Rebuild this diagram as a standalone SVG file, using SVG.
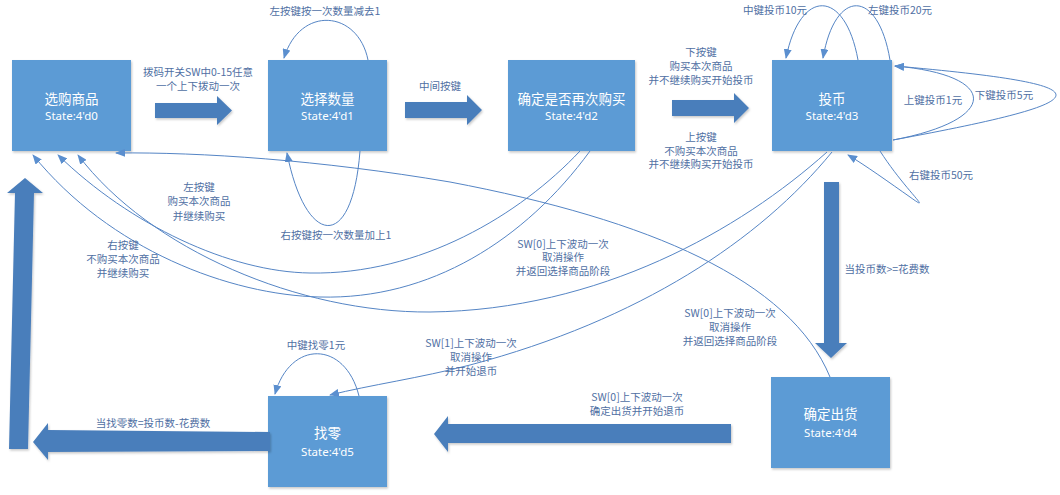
<svg xmlns="http://www.w3.org/2000/svg" width="1060" height="495" viewBox="0 0 1060 495">
<style>
.node rect{fill:#5B9BD5;filter:url(#sh)}
.t{font-family:"Noto Sans CJK SC","Noto Sans",sans-serif;fill:#fff;text-anchor:middle}
.tt{font-size:13.5px}
.ts{font-size:11.5px;font-family:"Noto Sans","Noto Sans CJK SC",sans-serif}
.big{fill:#4A7EBB;filter:url(#sh)}
.ln{fill:none;stroke:#5585C5;stroke-width:1;marker-end:url(#ah)}
.lb{font-family:"Noto Sans CJK SC","Noto Sans",sans-serif;font-size:10.5px;fill:#4F6FA3;text-anchor:middle}
</style>
<defs>
<filter id="sh" x="-10%" y="-10%" width="130%" height="130%"><feDropShadow dx="1" dy="1.5" stdDeviation="1.2" flood-color="#000" flood-opacity="0.22"/></filter>
<marker id="ah" markerWidth="10" markerHeight="8" refX="9" refY="4" orient="auto" markerUnits="userSpaceOnUse"><path d="M0,0 L10,4 L0,8 z" fill="#5B8FCF"/></marker>
</defs>
<rect width="1060" height="495" fill="#fff"/>

<g id="node0" class="node"><rect x="12" y="60" width="119" height="91"/><text class="t tt" x="71.5" y="104">选购商品</text><text class="t ts" x="71.5" y="120">State:4'd0</text></g>
<g id="node1" class="node"><rect x="268" y="60" width="119" height="91"/><text class="t tt" x="327.5" y="104">选择数量</text><text class="t ts" x="327.5" y="120">State:4'd1</text></g>
<g id="node2" class="node"><rect x="508" y="60" width="127" height="91"/><text class="t tt" x="571.5" y="104">确定是否再次购买</text><text class="t ts" x="571.5" y="120">State:4'd2</text></g>
<g id="node3" class="node"><rect x="772" y="60" width="120" height="91"/><text class="t tt" x="832" y="104">投币</text><text class="t ts" x="832" y="120">State:4'd3</text></g>
<g id="node4" class="node"><rect x="771" y="377" width="119" height="91"/><text class="t tt" x="830.5" y="419">确定出货</text><text class="t ts" x="830.5" y="437">State:4'd4</text></g>
<g id="node5" class="node"><rect x="268" y="396" width="119" height="91"/><text class="t tt" x="327.5" y="438">找零</text><text class="t ts" x="327.5" y="456">State:4'd5</text></g>

<g id="connectors">
<polygon class="big" points="155,103 217,103 217,96 232,110.5 217,125 217,118 155,118"/>
<polygon class="big" points="405,102 467,102 467,95 482,110 467,125 467,118 405,118"/>
<polygon class="big" points="672,100 734,100 734,93 749,108 734,123 734,116 672,116"/>
<polygon class="big" points="824,182 839,182 839,343 847,343 831,358 815,343 824,343"/>
<polygon class="big" points="731,424 731,443 448,443 448,452 434,434 448,416 448,424"/>
<polygon class="big" points="270,432 270,451 48,452 48,460 33,442 48,423 48,430"/>
<polygon class="big" points="9,449 28,449 34,193 43,193 25,178 7,193 15,193"/>

<path class="ln" d="M368,60 C358,10 300,5 284,58"/>
<path class="ln" d="M360,151 C352,255 305,245 287,153"/>
<path class="ln" d="M858,60 C845,-12 800,-12 786,58"/>
<path class="ln" d="M890,60 C878,-12 835,-12 823,58"/>
<path class="ln" d="M893,140 C1000,120 1000,75 895,66"/>
<path class="ln" d="M893,140 C1110,100 1110,85 895,66"/>
<path class="ln" d="M880,151 C905,190 935,215 910,197 C890,183 865,165 848,155"/>
<path class="ln" d="M359,396 C345,340 290,340 275,394"/>
<path class="ln" d="M590,151 C525,240 430,300 320,297 C230,295 110,250 33,155"/>
<path class="ln" d="M580,151 C520,215 420,275 310,273 C230,272 130,225 58,155"/>
<path class="ln" d="M827,152 C740,230 600,310 430,312 C300,313 150,250 78,155"/>
<path class="ln" d="M832,152 C760,240 640,320 470,365 C420,378 370,385 330,395"/>
<path class="ln" d="M830,377 C790,280 650,220 450,182 C320,160 200,152 116,153"/>
</g>

<g id="labels">
<text class="lb" x="198" y="75.5">拨码开关SW中0-15任意</text>
<text class="lb" x="198" y="89.5">一个上下拨动一次</text>
<text class="lb" x="440" y="89.5">中间按键</text>
<text class="lb" x="325" y="14.5">左按键按一次数量减去1</text>
<text class="lb" x="336" y="238.5">右按键按一次数量加上1</text>
<text class="lb" x="701" y="55.5">下按键</text>
<text class="lb" x="701" y="69.5">购买本次商品</text>
<text class="lb" x="701" y="83.5">并不继续购买开始投币</text>
<text class="lb" x="701" y="140.5">上按键</text>
<text class="lb" x="701" y="154.5">不购买本次商品</text>
<text class="lb" x="701" y="168">并不继续购买开始投币</text>
<text class="lb" x="775" y="13.5">中键投币10元</text>
<text class="lb" x="900" y="13.5">左键投币20元</text>
<text class="lb" x="933" y="103.5">上键投币1元</text>
<text class="lb" x="1004" y="98.5">下键投币5元</text>
<text class="lb" x="941" y="178.5">右键投币50元</text>
<text class="lb" x="887" y="272.5">当投币数&gt;=花费数</text>
<text class="lb" x="730" y="316.5">SW[0]上下波动一次</text>
<text class="lb" x="730" y="330.5">取消操作</text>
<text class="lb" x="730" y="344.5">并返回选择商品阶段</text>
<text class="lb" x="637" y="400.5">SW[0]上下波动一次</text>
<text class="lb" x="637" y="414.5">确定出货并开始退币</text>
<text class="lb" x="316" y="348.5">中键找零1元</text>
<text class="lb" x="471" y="346.5">SW[1]上下波动一次</text>
<text class="lb" x="471" y="360.5">取消操作</text>
<text class="lb" x="471" y="375">并开始退币</text>
<text class="lb" x="153" y="426.5">当找零数=投币数-花费数</text>
<text class="lb" x="199" y="190.5">左按键</text>
<text class="lb" x="199" y="205">购买本次商品</text>
<text class="lb" x="199" y="219.5">并继续购买</text>
<text class="lb" x="123" y="248.5">右按键</text>
<text class="lb" x="123" y="262.5">不购买本次商品</text>
<text class="lb" x="123" y="276.5">并继续购买</text>
<text class="lb" x="563" y="247.5">SW[0]上下波动一次</text>
<text class="lb" x="563" y="261">取消操作</text>
<text class="lb" x="563" y="275">并返回选择商品阶段</text>
</g>
</svg>
